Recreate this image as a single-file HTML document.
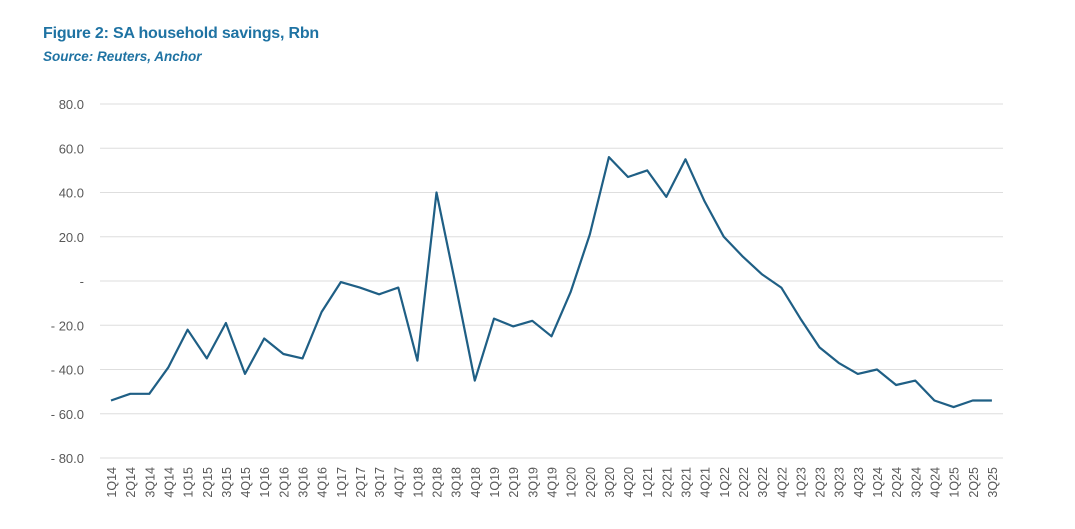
<!DOCTYPE html>
<html><head><meta charset="utf-8"><style>
body{margin:0;background:#fff;width:1075px;height:529px;overflow:hidden;font-family:"Liberation Sans",sans-serif}
.t{position:absolute;left:43px;top:25px;color:#1f73a3;font-weight:bold;font-size:16px;letter-spacing:-0.2px}
.s{position:absolute;left:43px;top:49px;color:#1f73a3;font-style:italic;font-weight:bold;font-size:13.5px}
</style></head><body>
<div class="t">Figure 2: SA household savings, Rbn</div>
<div class="s">Source: Reuters, Anchor</div>
<svg id="c" width="1075" height="529" style="position:absolute;left:0;top:0"></svg>
<script>
var v=[-54,-51,-51,-39,-22,-35,-19,-42,-26,-33,-35,-14,-0.5,-3,-6,-3,-36,40,-2,-45,-17,-20.5,-18,-25,-5,21,56,47,50,38,55,36,20,11,3,-3,-17,-30,-37,-42,-40,-47,-45,-54,-57,-54,-54];
function Y(x){return 281-x*2.2125;}
function X(i){return 111+i*19.15;}
var s='';
for(var g=-80;g<=80;g+=20){var y=Y(g);
s+='<line x1="100" x2="1003" y1="'+y+'" y2="'+y+'" stroke="#dedede" stroke-width="1"/>';
var lab=g==0?'-':(g<0?'- '+(-g).toFixed(1):g.toFixed(1));
s+='<text x="84" y="'+(y+5)+'" text-anchor="end" font-size="13" fill="#595959">'+lab+'</text>';}
var q=0,yr=14;
for(var i=0;i<47;i++){var l=(q+1)+'Q'+yr;q++;if(q==4){q=0;yr++;}
s+='<text transform="translate('+(X(i)+5)+',467) rotate(-90)" text-anchor="end" font-size="12.5" fill="#595959">'+l+'</text>';}
var p=v.map(function(a,i){return X(i).toFixed(1)+','+Y(a).toFixed(1)}).join(' ');
s+='<polyline points="'+p+'" fill="none" stroke="#1f5f85" stroke-width="2.2" stroke-linejoin="round"/>';
document.getElementById('c').innerHTML=s;
</script>
</body></html>
